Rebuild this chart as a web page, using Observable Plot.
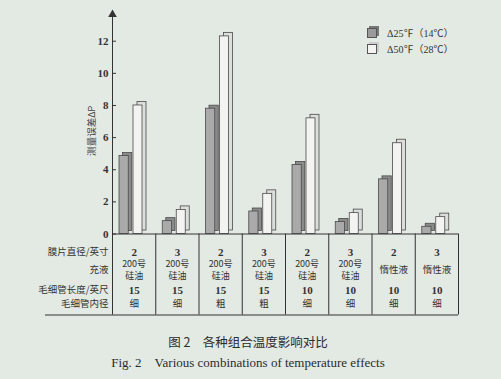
<!DOCTYPE html>
<html>
<head>
<meta charset="utf-8">
<script src="https://cdn.jsdelivr.net/npm/d3@7"></script>
<script src="https://cdn.jsdelivr.net/npm/@observablehq/plot@0.6"></script>
<style>
  html, body { margin: 0; padding: 0; background: #e3e9e3; }
  #wrap { position: relative; width: 501px; height: 379px; overflow: hidden; background: #e3e9e3; }
  #chart svg { display: block; }
  .legend { position: absolute; left: 367px; font-family: "Liberation Serif", "Noto Sans CJK SC", serif; font-size: 10px; color: #333; display: flex; align-items: center; }
  .box { width: 8px; height: 8px; border: 1px solid #555; margin-right: 10px; position: relative; }
  .cap { position: absolute; left: 0; width: 496px; text-align: center; color: #2c2c2c; }
</style>
</head>
<body>
<div id="wrap">
  <div id="chart"></div>
  <div class="legend" style="top:25px"><span class="box" style="background:#9a9a9a;box-shadow:2px -2px 0 0 #777;"></span><span>Δ25℉（14℃）</span></div>
  <div class="legend" style="top:41px"><span class="box" style="background:#f3f4f1;box-shadow:2px -2px 0 0 #ccc;"></span><span>Δ50℉（28℃）</span></div>
  <div class="cap" style="top:332px;font-family:'Noto Sans CJK SC',sans-serif;font-size:12.5px;">图 2　各种组合温度影响对比</div>
  <div class="cap" style="top:354px;font-family:'Liberation Serif',serif;font-size:13px;">Fig. 2　Various combinations of temperature effects</div>
</div>
<script>
// ---- data ----
const categories = ["A", "B", "C", "D", "E", "F", "G", "H"];
const dT25 = [4.85, 0.8, 7.8, 1.4, 4.3, 0.75, 3.4, 0.45];
const dT50 = [8.0, 1.5, 12.3, 2.5, 7.2, 1.3, 5.65, 1.05];
const rowLabels = ["膜片直径/英寸", "充液", "毛细管长度/英尺", "毛细管内径"];
const diameter = ["2", "3", "2", "3", "2", "3", "2", "3"];
const fillLiquid = ["200号\n硅油", "200号\n硅油", "200号\n硅油", "200号\n硅油", "200号\n硅油", "200号\n硅油", "惰性液", "惰性液"];
const capLength = ["15", "15", "15", "15", "10", "10", "10", "10"];
const capBore = ["细", "细", "粗", "粗", "细", "细", "细", "细"];
const yTicks = [0, 2, 4, 6, 8, 10, 12];
const yLabel = "测量误差ΔP";

// ---- layout ----
const W = 501, H = 325;
const mL = 112, mR = 43, mT = 15, mB = 91.5;
const frameH = H - mT - mB;
const tableH = 81;
const rowDy = [18.2, 36.2, 56, 70];

const rows = categories.map((c, i) => {
  const parts = fillLiquid[i].split("\n");
  return {
    i, c, g: dT25[i], w: dT50[i],
    d: diameter[i], f1: parts[0], f2: parts[1] || null, nf: parts.length,
    l: capLength[i], b: capBore[i]
  };
});

const serif = "'Liberation Serif', 'DejaVu Serif', serif";
const cjk = "'Noto Sans CJK SC', sans-serif";
const ink = "#4a4a4a";

const cellText = (key, dy, opts = {}) => Plot.text(rows, {
  x: d => d.i + 0.5, text: key, frameAnchor: "bottom", lineAnchor: "middle", textAnchor: "middle", dy,
  fill: "#333", ...opts
});
const rowLabel = (k) => Plot.text([rowLabels[k]], {
  frameAnchor: "bottom-left", lineAnchor: "middle", textAnchor: "end", dx: -4, dy: rowDy[k],
  text: d => d, fontFamily: cjk, fontSize: 9.5, fill: "#333"
});

const chart = Plot.plot({
  width: W, height: H,
  marginLeft: mL, marginRight: mR, marginTop: mT, marginBottom: mB,
  style: { background: "transparent", overflow: "visible" },
  x: { domain: [0, categories.length], axis: null },
  y: { domain: [0, 13.6], axis: null },
  marks: [
    // 3D bars: back face (depth) then front face
    Plot.rectY(rows, { x1: "i", x2: d => d.i + 1, y: "g", insetLeft: 7, insetRight: 27, dx: 3.5, dy: -3, fill: "#8a8a8a", stroke: ink, strokeWidth: 0.8 }),
    Plot.rectY(rows, { x1: "i", x2: d => d.i + 1, y: "g", insetLeft: 7, insetRight: 27, fill: "#aaaaaa", stroke: ink, strokeWidth: 0.8 }),
    Plot.rectY(rows, { x1: "i", x2: d => d.i + 1, y: "w", insetLeft: 21, insetRight: 13.25, dx: 4, dy: -3.5, fill: "#dcdedb", stroke: ink, strokeWidth: 0.8 }),
    Plot.rectY(rows, { x1: "i", x2: d => d.i + 1, y: "w", insetLeft: 21, insetRight: 13.25, fill: "#f3f4f1", stroke: ink, strokeWidth: 0.8 }),
    // baseline
    Plot.ruleY([0], { stroke: "#333", strokeWidth: 1 }),
    // table bottom line
    Plot.ruleY([0], { dy: tableH, insetLeft: -67, stroke: "#333", strokeWidth: 1 }),
    // table column separators
    Plot.ruleX(d3.range(1, categories.length + 1), { insetTop: frameH, insetBottom: -tableH, stroke: "#333", strokeWidth: 1 }),
    // y axis line (extends through table)
    Plot.ruleX([0], { insetBottom: -tableH, stroke: "#333", strokeWidth: 1 }),
    // arrow head
    Plot.dot([0], { x: d => d, frameAnchor: "top", symbol: "triangle", r: 3.2, fill: "#333", stroke: "none", dy: -1 }),
    // y ticks (pointing right) and labels
    Plot.ruleY(yTicks, { insetRight: (W - mL - mR) - 4, stroke: "#333" }),
    Plot.text(yTicks, { y: d => d, text: d => String(d), frameAnchor: "left", dx: -4, textAnchor: "end", fontFamily: serif, fontWeight: "bold", fontSize: 11, fill: "#333" }),
    // y label
    Plot.text([yLabel], { frameAnchor: "left", textAnchor: "middle", dx: -21, dy: 6, rotate: -90, fontFamily: cjk, fontSize: 9.5, fill: "#444" }),
    // table row labels
    rowLabel(0), rowLabel(1), rowLabel(2), rowLabel(3),
    // table cells
    cellText("d", rowDy[0], { fontFamily: serif, fontWeight: "bold", fontSize: 11 }),
    cellText("f1", rowDy[1] - 5.8, { filter: d => d.nf > 1, fontFamily: cjk, fontSize: 9 }),
    cellText("f2", rowDy[1] + 5.8, { filter: d => d.nf > 1, fontFamily: cjk, fontSize: 9 }),
    cellText("f1", rowDy[1], { filter: d => d.nf === 1, fontFamily: cjk, fontSize: 9.5 }),
    cellText("l", rowDy[2], { fontFamily: serif, fontWeight: "bold", fontSize: 11 }),
    cellText("b", rowDy[3], { fontFamily: cjk, fontSize: 9.5 })
  ]
});

document.getElementById("chart").appendChild(chart);
</script>
</body>
</html>
